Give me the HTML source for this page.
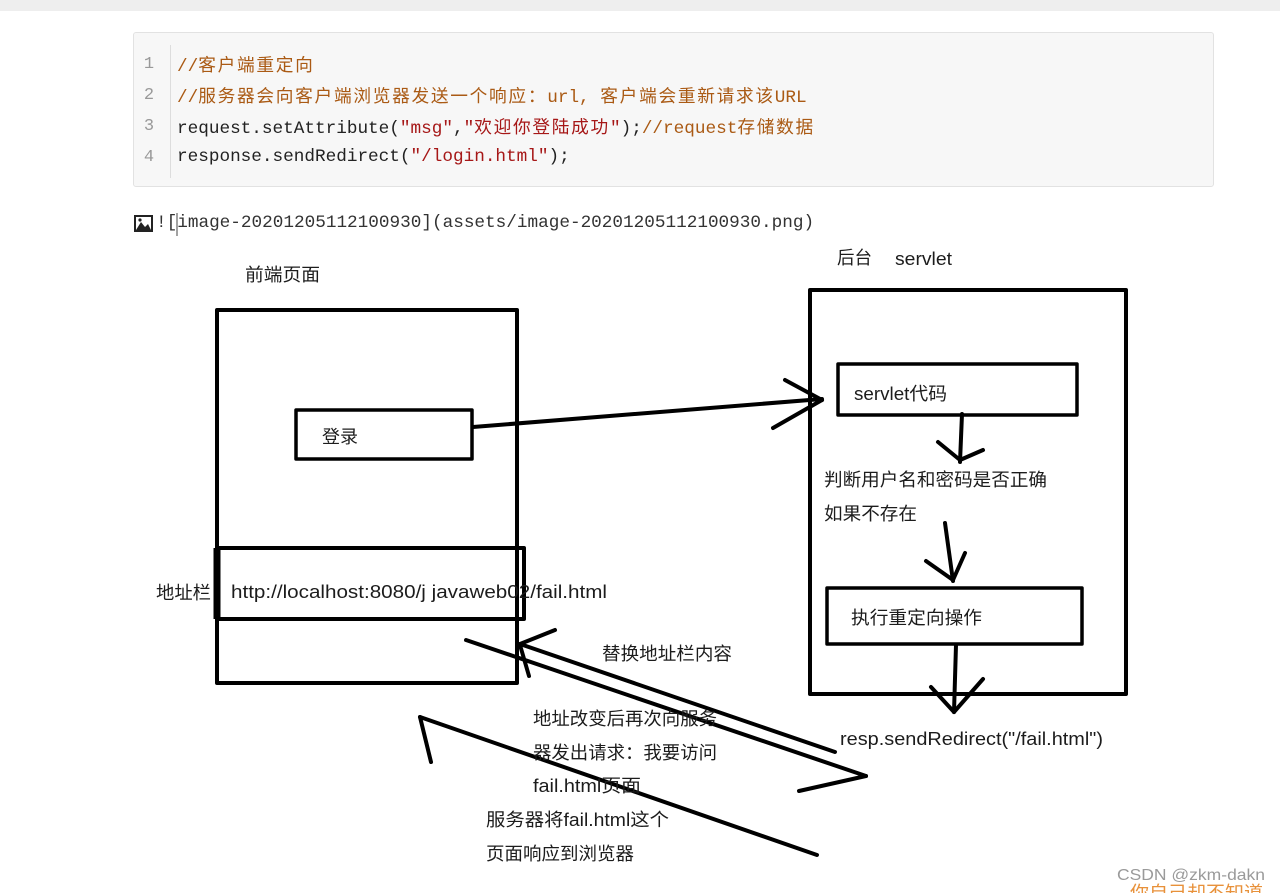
<!DOCTYPE html>
<html><head><meta charset="utf-8"><style>
html,body{margin:0;padding:0;background:#fff;}
body{width:1280px;height:893px;position:relative;overflow:hidden;}
.top{position:absolute;left:0;top:0;width:1280px;height:11px;background:#eeeeee;}
.code{position:absolute;left:133px;top:32px;width:1079px;height:153px;background:#f7f7f7;border:1px solid #e2e2e2;border-radius:3px;}
.sep{position:absolute;left:170px;top:45px;width:1px;height:133px;background:#dddddd;}
.ln{position:absolute;left:138px;width:22px;text-align:center;font-family:"Liberation Mono",monospace;font-size:17px;color:#999;line-height:31px;}
.cl{position:absolute;left:177px;font-family:"Liberation Mono","Noto Sans CJK SC",monospace;font-size:17.7px;line-height:31px;color:#222;white-space:pre;}
.c{color:#aa5a14;}
.s{color:#a61717;}
.k{letter-spacing:1.7px;font-family:"Noto Sans CJK SC",sans-serif;}
.img{position:absolute;left:156px;top:211px;font-family:"Liberation Mono",monospace;font-size:17.7px;line-height:24px;color:#333;white-space:pre;}
svg{position:absolute;left:0;top:0;}
</style></head><body>
<div class="top"></div>
<div class="code"></div>
<div class="sep"></div>
<div class="ln" style="top:49px">1</div>
<div class="ln" style="top:80px">2</div>
<div class="ln" style="top:111px">3</div>
<div class="ln" style="top:142px">4</div>
<div class="cl" style="top:49px"><span class="c">//<span class="k">客户端重定向</span></span></div>
<div class="cl" style="top:80px"><span class="c">//<span class="k">服务器会向客户端浏览器发送一个响应：</span>url, <span class="k">客户端会重新请求该</span>URL</span></div>
<div class="cl" style="top:111px">request.setAttribute(<span class="s">"msg"</span>,<span class="s">"<span class="k">欢迎你登陆成功</span>"</span>);<span class="c">//request<span class="k">存储数据</span></span></div>
<div class="cl" style="top:142px">response.sendRedirect(<span class="s">"/login.html"</span>);</div>
<div class="img">![image-20201205112100930](assets/image-20201205112100930.png)</div>

<svg width="1280" height="893" viewBox="0 0 1280 893" xmlns="http://www.w3.org/2000/svg">
  <!-- image icon -->
  <rect x="134" y="215" width="19" height="17" fill="#222"/>
  <rect x="136" y="217" width="15" height="13" fill="#fff"/>
  <polygon points="136,230 141,222 145,227 148,224 151,230" fill="#222"/>
  <circle cx="140" cy="220" r="1.6" fill="#222"/>
  <line x1="177" y1="213" x2="177" y2="236" stroke="#444" stroke-width="1"/>

  <g fill="none" stroke="#000" stroke-linecap="round" stroke-linejoin="round">
    <!-- left front box -->
    <rect x="217" y="310" width="300" height="373" stroke-width="4"/>
    <rect x="296" y="410" width="176" height="49" stroke-width="3.5"/>
    <rect x="218" y="548" width="306" height="71" stroke-width="4"/>
    <line x1="217" y1="548" x2="217" y2="619" stroke-width="7" stroke-linecap="butt"/>
    <!-- right back box -->
    <rect x="810" y="290" width="316" height="404" stroke-width="4"/>
    <rect x="838" y="364" width="239" height="51" stroke-width="3.5"/>
    <rect x="827" y="588" width="255" height="56" stroke-width="3.5"/>

    <!-- login arrow -->
    <line x1="473" y1="427" x2="822" y2="399" stroke-width="4"/>
    <line x1="785" y1="380" x2="822" y2="400" stroke-width="4"/>
    <line x1="773" y1="428" x2="822" y2="400" stroke-width="4"/>

    <!-- down arrow 1 -->
    <line x1="962" y1="414" x2="960" y2="462" stroke-width="4"/>
    <line x1="938" y1="442" x2="960" y2="460" stroke-width="4"/>
    <line x1="983" y1="450" x2="960" y2="460" stroke-width="4"/>
    <!-- down arrow 2 -->
    <line x1="945" y1="523" x2="953" y2="581" stroke-width="4"/>
    <line x1="926" y1="561" x2="953" y2="580" stroke-width="4"/>
    <line x1="965" y1="553" x2="953" y2="580" stroke-width="4"/>
    <!-- down arrow 3 -->
    <line x1="956" y1="645" x2="954" y2="712" stroke-width="4"/>
    <line x1="931" y1="687" x2="954" y2="712" stroke-width="4"/>
    <line x1="983" y1="679" x2="954" y2="712" stroke-width="4"/>

    <!-- bottom arrows -->
    <line x1="835" y1="752" x2="520" y2="644" stroke-width="4"/>
    <line x1="555" y1="630" x2="520" y2="644" stroke-width="4"/>
    <line x1="520" y1="645" x2="529" y2="676" stroke-width="4"/>

    <line x1="466" y1="640" x2="866" y2="776" stroke-width="4"/>
    <line x1="799" y1="791" x2="866" y2="776" stroke-width="4"/>

    <line x1="420" y1="717" x2="817" y2="855" stroke-width="4"/>
    <line x1="420" y1="717" x2="431" y2="762" stroke-width="4"/>
  </g>

  <g font-family="'Liberation Sans','Noto Sans CJK SC',sans-serif" font-size="18" fill="#1c1c1c">
    <text x="245" y="281" textLength="75" lengthAdjust="spacingAndGlyphs">前端页面</text>
    <text x="837" y="264" textLength="35" lengthAdjust="spacingAndGlyphs">后台</text>
    <text x="895" y="265" textLength="57" lengthAdjust="spacingAndGlyphs">servlet</text>
    <text x="322" y="443" textLength="36" lengthAdjust="spacingAndGlyphs">登录</text>
    <text x="156" y="599" textLength="55" lengthAdjust="spacingAndGlyphs">地址栏</text>
    <text x="231" y="598" textLength="376" lengthAdjust="spacingAndGlyphs">http://localhost:8080/j javaweb02/fail.html</text>
    <text x="854" y="400" textLength="93" lengthAdjust="spacingAndGlyphs">servlet代码</text>
    <text x="824" y="486" textLength="223" lengthAdjust="spacingAndGlyphs">判断用户名和密码是否正确</text>
    <text x="824" y="520" textLength="93" lengthAdjust="spacingAndGlyphs">如果不存在</text>
    <text x="851" y="624" textLength="131" lengthAdjust="spacingAndGlyphs">执行重定向操作</text>
    <text x="840" y="745" textLength="263" lengthAdjust="spacingAndGlyphs">resp.sendRedirect("/fail.html")</text>
    <text x="602" y="660" textLength="130" lengthAdjust="spacingAndGlyphs">替换地址栏内容</text>
    <text x="533" y="725" textLength="184" lengthAdjust="spacingAndGlyphs">地址改变后再次向服务</text>
    <text x="533" y="759" textLength="184" lengthAdjust="spacingAndGlyphs">器发出请求：我要访问</text>
    <text x="533" y="792" textLength="108" lengthAdjust="spacingAndGlyphs">fail.html页面</text>
    <text x="486" y="826" textLength="183" lengthAdjust="spacingAndGlyphs">服务器将fail.html这个</text>
    <text x="486" y="860" textLength="148" lengthAdjust="spacingAndGlyphs">页面响应到浏览器</text>
  </g>

  <!-- watermark -->
  <g font-family="'Liberation Sans','Noto Sans CJK SC',sans-serif" font-size="16">
    <text x="1117" y="880" textLength="148" lengthAdjust="spacingAndGlyphs" fill="#9a9a9a" stroke="#fff" stroke-width="2" paint-order="stroke">CSDN @zkm-dakn</text>
    <text x="1130" y="899" font-size="18" textLength="133" lengthAdjust="spacingAndGlyphs" fill="#e8913a" stroke="#fff" stroke-width="2" paint-order="stroke">你自己却不知道</text>
  </g>
</svg>
</body></html>
